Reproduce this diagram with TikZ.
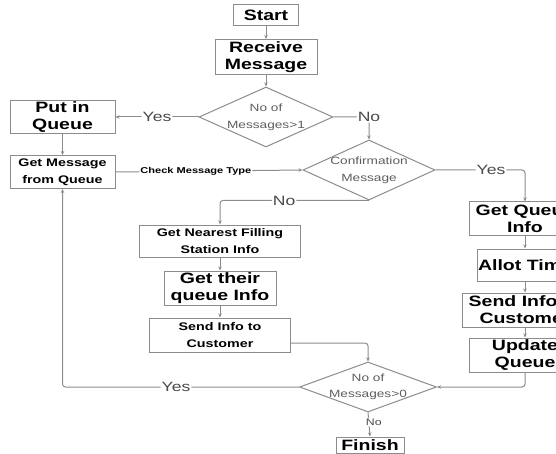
\documentclass[tikz,border=0pt]{standalone}
\usepackage{fontspec}
\setmainfont[FakeStretch=1.3]{Liberation Sans}
\usetikzlibrary{arrows.meta,shapes.geometric,calc}
\definecolor{ln}{HTML}{8C8C8C}
\definecolor{dtxt}{HTML}{5E5E5E}
\definecolor{ltxt}{HTML}{4A4A4A}
\tikzset{
  box/.style={draw=ln, line width=1pt, align=center, inner sep=1pt, text=black},
  big/.style={font=\fontsize{15}{17}\selectfont\bfseries},
  mid/.style={font=\fontsize{11}{16.5}\selectfont\bfseries},
  dia/.style={diamond, draw=ln, line width=1pt, inner sep=0pt},
  dtext/.style={align=center, text=dtxt, inner sep=0pt, font=\fontsize{10.5}{17}\selectfont},
  lbl/.style={fill=white, inner sep=1pt, text=ltxt, font=\fontsize{13.5}{14}\selectfont},
  conn/.style={draw=ln, line width=1pt, rounded corners=3pt, -{Stealth[length=4pt,width=3.5pt]}},
}
\begin{document}
\begin{tikzpicture}[x=1pt,y=-1pt]
\useasboundingbox (0,0) rectangle (556,454);
\clip (0,0) rectangle (556,454);

% main column
\node[box, big, minimum width=65pt, minimum height=21pt] (start) at (266,15) {Start};
\node[box, big, minimum width=102pt, minimum height=35pt] (recv) at (266,57) {Receive\\Message};
\node[dia, minimum width=134pt, minimum height=60pt] (d1) at (266,117) {};
\node[dtext] (d1t) at (d1) {No of\\Messages>1};

% left column
\node[box, big, minimum width=105pt, minimum height=33pt] (putq) at (62.5,117) {Put in\\Queue};
\node[box, mid, minimum width=105pt, minimum height=33pt] (getq) at (62.5,172) {Get Message\\from Queue};

% confirmation diamond
\node[dia, minimum width=132pt, minimum height=60pt] (d2) at (369,170) {};
\node[dtext] (d2t) at (d2) {Confirmation\\Message};

% middle column
\node[box, mid, minimum width=161pt, minimum height=32pt] (near) at (220,241) {Get Nearest Filling\\Station Info};
\node[box, big, minimum width=112pt, minimum height=34pt] (their) at (220,288) {Get their\\queue Info};
\node[box, mid, minimum width=141pt, minimum height=34pt] (sendL) at (220,335) {Send Info to\\Customer};

% right column
\node[box, big, minimum width=112pt, minimum height=33pt] (gq) at (525,218.5) {Get Queue\\Info};
\node[box, big, minimum width=96pt, minimum height=32pt] (allot) at (525,265) {Allot Time};
\node[box, big, minimum width=126pt, minimum height=34pt] (sendR) at (525,310) {Send Info to\\Customer};
\node[box, big, minimum width=112pt, minimum height=34pt] (upd) at (525,355) {Update\\Queue};

% bottom diamond and finish
\node[dia, minimum width=137pt, minimum height=50pt] (d3) at (368,387) {};
\node[dtext, font=\fontsize{10.5}{16}\selectfont] (d3t) at (d3) {No of\\Messages>0};
\node[box, big, minimum width=68pt, minimum height=16pt, inner sep=0pt] (finish) at (370,445) {Finish};

% connectors
\draw[conn] (start) -- (recv);
\draw[conn] (recv) -- (d1);
\draw[conn] (d1.west) -- node[lbl]{Yes} (putq.east);
\draw[conn] (d1.east) -| node[lbl, pos=0.5]{No} (d2.north);
\draw[conn] (putq) -- (getq);
\draw[conn] (getq.east) -- node[lbl, pos=0.43, font=\fontsize{8.5}{9}\selectfont\bfseries, text=black]{Check Message Type} (d2.west);
\draw[conn] (d2.east) -| node[lbl, pos=0.31]{Yes} (gq.north);
\draw[conn] (d2.south) -| node[lbl, pos=0.285]{No} (near.north);
\draw[conn] (near) -- (their);
\draw[conn] (their) -- (sendL);
\draw[conn] ([yshift=-8pt]sendL.east) -| (d3.north);
\draw[conn] (gq) -- (allot);
\draw[conn] (allot) -- (sendR);
\draw[conn] (sendR) -- (upd);
\draw[conn] (upd.south) |- (d3.east);
\draw[conn] (d3.west) -| node[lbl, pos=0.26]{Yes} (getq.south);
\draw[conn] (d3.south) -- node[lbl, pos=0.4, xshift=5pt, font=\fontsize{9.5}{10}\selectfont]{No} (finish.north);
\end{tikzpicture}
\end{document}
